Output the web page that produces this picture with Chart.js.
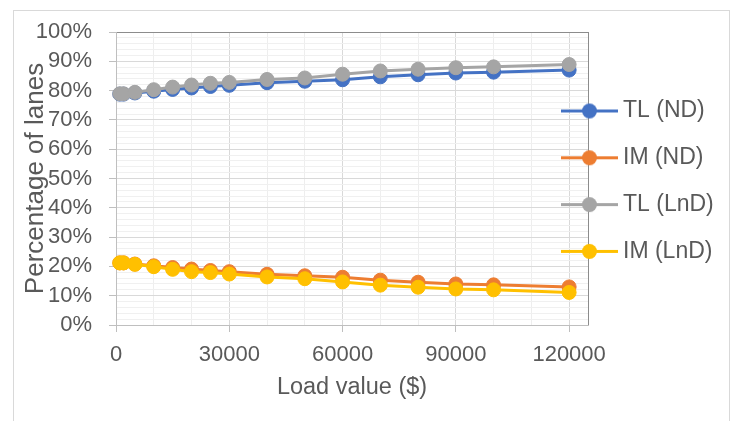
<!DOCTYPE html>
<html><head><meta charset="utf-8">
<script src="https://cdn.jsdelivr.net/npm/chart.js@4/dist/chart.umd.min.js"></script>
<style>html,body{margin:0;padding:0;background:#fff;}#wrap{width:731px;height:421px;}</style>
</head><body><div id="wrap"><canvas id="c" width="731" height="421"></canvas></div>
<script>
// ---- data ----
const loadValues = [1000, 2000, 5000, 10000, 15000, 20000, 25000, 30000, 40000, 50000, 60000, 70000, 80000, 90000, 100000, 120000];
const tlND  = [78.8, 78.8, 79.2, 79.8, 80.4, 80.9, 81.4, 81.8, 82.7, 83.2, 83.7, 84.7, 85.4, 86.0, 86.3, 87.0];
const imND  = [21.2, 21.2, 20.8, 20.2, 19.6, 19.1, 18.6, 18.2, 17.3, 16.8, 16.3, 15.3, 14.6, 14.0, 13.7, 13.0];
const tlLnD = [78.9, 78.9, 79.4, 80.3, 81.2, 81.9, 82.5, 82.8, 83.8, 84.3, 85.6, 86.7, 87.3, 87.8, 88.1, 88.9];
const imLnD = [21.2, 21.2, 20.7, 19.9, 19.0, 18.2, 17.9, 17.4, 16.4, 15.8, 14.7, 13.6, 12.9, 12.3, 12.0, 11.1];
const seriesNames = ['TL (ND)', 'IM (ND)', 'TL (LnD)', 'IM (LnD)'];
const seriesColors = ['#4472C4', '#ED7D31', '#A5A5A5', '#FFC000'];
const xLabelValues = [0, 30000, 60000, 90000, 120000];
const yLabelValues = [0, 10, 20, 30, 40, 50, 60, 70, 80, 90, 100];
const xMinorStep = 10000, xAxisMax = 125000;
const yMinorStep = 2;

const xTickValues = [];
for (let v = 0; v <= 120000; v += xMinorStep) xTickValues.push(v);
xTickValues.push(xAxisMax);
const yTickValues = [];
for (let v = 0; v <= 100; v += yMinorStep) yTickValues.push(v);

const FONT = "'Liberation Sans', Arial, sans-serif";
const TXT = '#595959';

function makeIcon(color) {
  const c = document.createElement('canvas');
  c.width = 57; c.height = 17;
  const g = c.getContext('2d');
  g.strokeStyle = color; g.lineWidth = 3;
  g.beginPath(); g.moveTo(0, 8.5); g.lineTo(57, 8.5); g.stroke();
  g.fillStyle = color;
  g.beginPath(); g.arc(28.5, 8.5, 7.5, 0, Math.PI * 2); g.fill();
  return c;
}
const icons = seriesColors.map(makeIcon);

const allSeries = [tlND, imND, tlLnD, imLnD];
const datasets = allSeries.map((vals, i) => ({
  label: seriesNames[i],
  data: loadValues.map((x, j) => ({ x: x, y: vals[j] })),
  borderColor: seriesColors[i],
  backgroundColor: seriesColors[i],
  pointBackgroundColor: seriesColors[i],
  pointBorderColor: seriesColors[i],
  pointRadius: 7,
  pointBorderWidth: 1,
  borderWidth: 3,
  tension: 0,
  clip: false,
  order: 4 - i
}));

const bgPlugin = {
  id: 'bg',
  beforeDraw(chart) {
    const g = chart.ctx;
    g.save();
    g.fillStyle = '#fff';
    g.fillRect(0, 0, chart.width, chart.height);
    g.strokeStyle = '#d9d9d9'; g.lineWidth = 1;
    g.strokeRect(13.5, 10.5, 716, 500);
    g.restore();
  }
};
const legendPlace = {
  id: 'legendPlace',
  afterLayout(chart) {
    const l = chart.legend;
    const p = l.options.labels.padding;
    l.left = 567.5 - p;
    l.right = chart.width;
    l.width = l.right - l.left;
    l.top = 111 - p - 11.5;
    l.bottom = chart.height;
    l.height = l.bottom - l.top;
  }
};

new Chart(document.getElementById('c'), {
  type: 'line',
  data: { datasets },
  options: {
    responsive: false,
    animation: false,
    devicePixelRatio: 1,
    layout: { padding: { left: 13, top: 32, right: 0, bottom: 0 } },
    plugins: {
      tooltip: { enabled: false },
      legend: {
        position: 'right',
        align: 'start',
        maxWidth: 143,
        labels: {
          usePointStyle: true,
          pointStyleWidth: 44,
          padding: 23.8,
          color: TXT,
          font: { family: FONT, size: 23 },
          sort: (a, b) => a.datasetIndex - b.datasetIndex,
          generateLabels(chart) {
            const items = Chart.defaults.plugins.legend.labels.generateLabels(chart);
            items.forEach(it => { it.pointStyle = icons[it.datasetIndex]; });
            return items;
          }
        }
      }
    },
    scales: {
      x: {
        type: 'linear', min: 0, max: xAxisMax,
        afterBuildTicks: s => { s.ticks = xTickValues.map(v => ({ value: v })); },
        afterFit: s => { s.height = 96; },
        ticks: {
          autoSkip: false, maxRotation: 0, minRotation: 0, padding: 10,
          color: TXT, font: { family: FONT, size: 22 },
          callback: v => xLabelValues.includes(v) ? String(v) : ''
        },
        grid: {
          tickLength: 7,
          color: c => c.tick.value === xAxisMax ? '#8c8c8c' : (xLabelValues.includes(c.tick.value) ? '#d9d9d9' : '#eeeeee'),
          tickColor: c => xLabelValues.includes(c.tick.value) ? '#bfbfbf' : 'rgba(0,0,0,0)'
        },
        border: { color: '#bfbfbf', width: 1 },
        title: { display: true, text: 'Load value ($)', color: TXT, font: { family: FONT, size: 23.5 }, padding: { top: 0, bottom: 19 } }
      },
      y: {
        min: 0, max: 100,
        afterBuildTicks: s => { s.ticks = yTickValues.map(v => ({ value: v })); },
        afterFit: s => { s.width = 103; },
        ticks: {
          autoSkip: false, padding: 17,
          color: TXT, font: { family: FONT, size: 22 },
          callback: v => yLabelValues.includes(v) ? v + '%' : ''
        },
        grid: {
          tickLength: 7,
          color: c => c.tick.value === 100 ? '#8c8c8c' : (yLabelValues.includes(c.tick.value) ? '#d9d9d9' : '#f0f0f0'),
          tickColor: c => yLabelValues.includes(c.tick.value) ? '#bfbfbf' : 'rgba(0,0,0,0)'
        },
        border: { color: '#bfbfbf', width: 1 },
        title: { display: true, text: 'Percentage of lanes', color: TXT, font: { family: FONT, size: 26 }, padding: { top: 7, bottom: 0 } }
      }
    }
  },
  plugins: [bgPlugin, legendPlace]
});
</script>
</body></html>
